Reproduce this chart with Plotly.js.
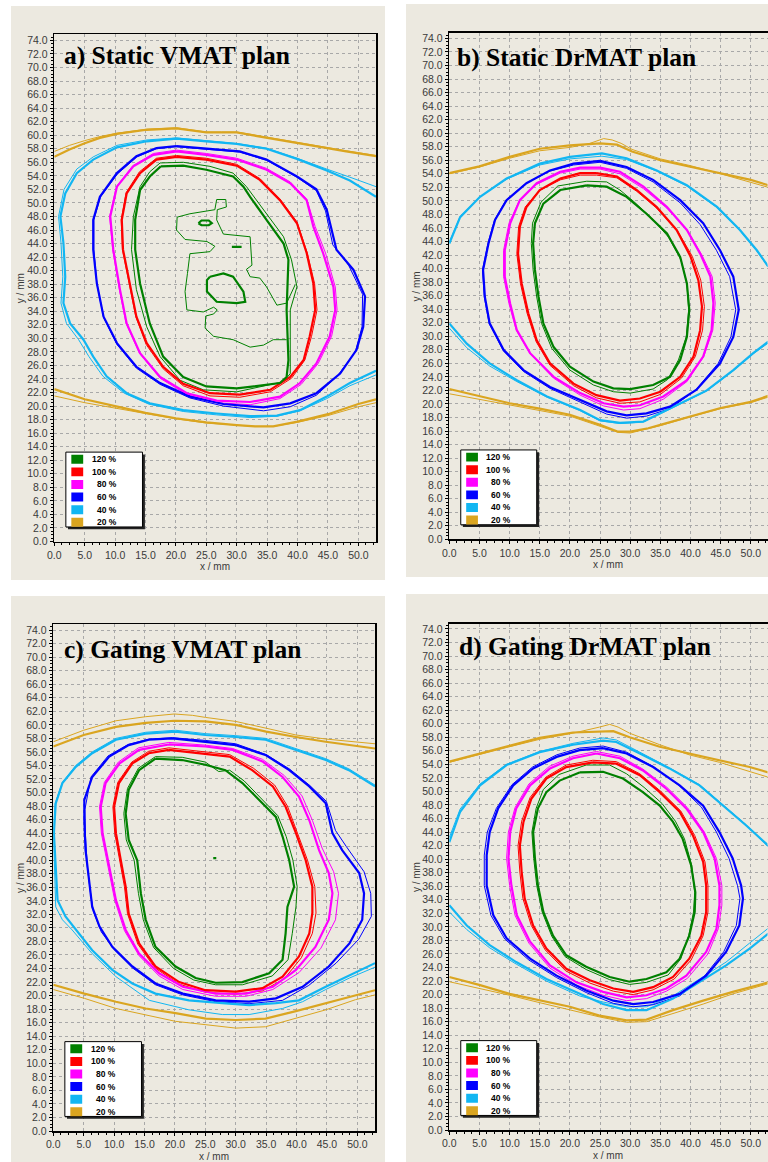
<!DOCTYPE html>
<html><head><meta charset="utf-8">
<script src="https://cdn.plot.ly/plotly-3.0.1.min.js"></script>
<style>html,body{margin:0;padding:0;background:#fff}#chart{width:768px;height:1162px}</style>
</head><body><div id="chart"></div>
<script>
// ---------- labels ----------
const PANEL_TITLES = ['a) Static VMAT plan', 'b) Static DrMAT plan', 'c) Gating VMAT plan', 'd) Gating DrMAT plan'];
const LEVEL_LABELS = ['120 %', '100 %', '80 %', '60 %', '40 %', '20 %'];
const X_TITLE = 'x / mm';
const Y_TITLE = 'y / mm';

// ---------- panel a : Static VMAT ----------
const a20_top = [[0,56.8],[2.5,57.9],[5,58.8],[7.5,59.6],[10.3,60.2],[15.2,60.8],[20.1,61.0],[23,60.7],[25,60.4],[27.5,60.4],[30,60.4],[32.5,60.0],[35,59.6],[40,58.8],[44.8,58.0],[48,57.6],[52.9,56.9]];
const a20_top_t = [[0,57.6],[2.5,58.5],[5,59.2],[7.5,59.8],[10.3,60.3],[15.2,60.9],[20.1,61.1],[23,60.8],[25,60.5],[27.5,60.5],[30,60.5],[32.5,60.1],[35,59.7],[40,58.9],[44.8,58.1],[48,57.7],[52.9,57.0]];
const a20_bot = [[0,22.5],[5,21.0],[10,20.0],[15,19.0],[20,18.2],[25,17.6],[30,17.2],[33,17.0],[36,17.0],[40,17.7],[45,18.8],[50,20.3],[52.9,21.0]];
const a20_bot_t = [[0,21.5],[5,20.5],[10,19.7],[15,18.9],[20,18.1],[25,17.5],[30,17.2],[33,17.0],[36,17.0],[40,17.6],[45,18.6],[50,19.9],[52.9,20.5]];
const a40 = [[52.9,50.9],[50,52.6],[48.6,53.3],[44.8,54.8],[39.9,56.5],[34.9,58.0],[30,58.7],[25,59.1],[20.1,59.5],[15.2,59.1],[10.3,58.2],[6.4,56.4],[3.7,54.4],[1.8,51.4],[1.0,48.0],[1.5,44.1],[1.8,39.1],[1.5,35.2],[2.6,32.2],[4.8,29.8],[6.4,27.3],[8.6,24.4],[11.9,21.9],[15.7,20.4],[21.2,19.4],[26.7,18.9],[32.2,18.5],[36.6,18.6],[40.4,19.4],[44.8,21.4],[48.6,23.4],[52.9,25.2]];
const a40_t = [[52.9,52.4],[50,53.4],[48.6,53.8],[44.8,55.0],[39.9,56.6],[34.9,58.1],[30,58.8],[25,59.2],[20.1,59.6],[15.2,59.3],[10.3,58.5],[6.4,56.8],[3.7,55.0],[1.6,52.0],[0.7,48.0],[1.1,44.1],[1.4,39.1],[1.1,35.2],[2.0,32.2],[4.0,29.8],[5.7,27.3],[8.0,24.4],[11.5,21.9],[15.5,20.3],[21.2,19.2],[26.7,18.7],[32.2,18.3],[36.6,18.5],[40.4,19.3],[44.8,21.1],[48.6,23.0],[52.9,24.6]];
const a60 = [[20.1,58.4],[25,58.0],[30.5,57.6],[34.9,56.4],[39.9,53.9],[43.1,52.0],[44.8,49.0],[46.4,43.1],[49.2,40.1],[51.1,36.2],[50.8,31.7],[49.7,28.3],[47,24.8],[43.1,21.9],[38.8,20.4],[34.4,19.8],[27.8,20.3],[22.3,21.4],[17.4,23.4],[13.5,25.8],[10.3,29.3],[8.1,33.2],[7,38.1],[6.4,43.1],[6.4,47.5],[7.5,50.9],[10.3,54.4],[13.5,56.9],[16.8,58.1],[20.1,58.4]];
const a60_t = [[20.1,58.3],[25,57.9],[30.5,57.5],[34.9,56.3],[39.9,53.8],[43.1,51.8],[44.6,48.8],[45.8,43.8],[48.4,40.8],[50.7,36.5],[50.6,31.7],[49.5,28.0],[46.6,24.5],[43.1,21.6],[38.8,19.9],[34.4,19.3],[27.8,20.0],[22.3,21.2],[17.4,23.2],[13.5,25.6],[10.3,29.1],[8.1,33.1],[7,38.1],[6.5,43.1],[6.5,47.5],[7.6,50.9],[10.4,54.3],[13.6,56.8],[16.8,58.0],[20.1,58.3]];
const a80 = [[20.1,57.6],[25,57.1],[30,56.4],[34.9,54.9],[38.8,52.9],[41.5,50.4],[42.6,46.5],[44.2,42.6],[45.9,37.6],[46.2,34.2],[45.3,30.3],[43.1,26.3],[40.4,23.4],[37.1,21.4],[32.2,20.6],[26.7,20.8],[21.8,21.9],[17.4,24.3],[14.1,27.8],[11.9,32.2],[10.8,37.2],[9.7,43.1],[9.2,48],[10.3,52.4],[13,55.4],[16.3,57.1],[20.1,57.6]];
const a80_t = [[20.1,57.8],[25,57.3],[30,56.6],[34.9,55.1],[38.8,53.1],[41.5,50.6],[42.9,46.5],[44.6,42.6],[46.2,37.6],[46.5,34.2],[45.6,30.3],[43.4,26.3],[40.6,23.2],[37.1,21.1],[32.2,20.2],[26.7,20.5],[21.8,21.7],[17.4,24.1],[14.0,27.8],[11.8,32.2],[10.7,37.2],[9.6,43.1],[9.1,48],[10.2,52.4],[12.9,55.5],[16.3,57.3],[20.1,57.8]];
const a100 = [[20.1,56.8],[25,56.4],[30,55.5],[33.8,53.4],[37.1,50.4],[39.9,47],[41.5,42.6],[42.6,38.1],[42.9,34.2],[42,30.3],[41,26.8],[38.8,24.3],[35.5,22.4],[30.5,21.7],[25.6,21.9],[21.2,23.3],[17.9,25.8],[15.2,29.3],[13.5,33.2],[12.4,38.1],[11.3,43.1],[11.1,47.5],[11.9,51.4],[14.1,54.4],[16.8,56.4],[20.1,56.8]];
const a100_t = [[20.1,57.0],[25,56.6],[30,55.7],[33.8,53.6],[37.1,50.6],[39.9,47.2],[41.6,42.6],[42.8,38.1],[43.2,34.2],[42.3,30.3],[41.2,26.8],[39.0,24.1],[35.5,22.1],[30.5,21.3],[25.6,21.5],[21.2,23.0],[17.9,25.5],[15.1,29.1],[13.4,33.2],[12.3,38.1],[11.2,43.1],[11.0,47.5],[11.8,51.5],[14.0,54.6],[16.8,56.6],[20.1,57.0]];
const a120 = [[17.5,55.4],[21.2,55.5],[25,54.9],[29.4,53.9],[31.1,52.4],[32.2,50.9],[34.9,47.5],[37.7,44.0],[38.5,41.6],[38.2,34.2],[38.5,26.8],[38.2,24.3],[37.1,23.4],[30,22.6],[25,22.9],[21.2,24.3],[17.9,27.3],[15.7,32.2],[14.1,38.1],[13.3,43.1],[13.3,47.5],[14.1,51.9],[15.7,53.9],[17.5,55.4]];
const a120_t = [[17.4,55.9],[21.2,56.0],[25.6,55.4],[29.4,54.4],[31.6,52.4],[34.4,49.0],[37.7,45.0],[39.0,41.6],[39.9,37.6],[38.8,34.2],[38.8,29.3],[38.8,24.8],[37.7,23.6],[30,22.1],[24.5,22.4],[20.7,23.8],[17.4,27.3],[15.2,31.7],[13.5,37.2],[12.7,43.1],[13,48],[14.1,52.4],[15.7,54.6],[17.4,55.9]];
const a120_inner_t = [[39.6,37.9],[38.2,35.2],[36.6,34.9],[34.9,37.6],[33.8,38.9],[32.2,39.1],[31.6,40.2],[32.5,40.8],[32.2,45.0],[27.8,45.4],[26.7,47.5],[26.8,49.0],[28.3,49.4],[28.2,50.5],[26.7,50.5],[26.4,49.0],[22.3,48.4],[20.2,47.9],[20.1,46.0],[21.5,44.6],[25.1,44.3],[26.4,43.6],[25.6,42.8],[22.3,42.5],[21.9,39.6],[21.5,36.9],[21.8,34.2],[24.5,33.9],[26.2,34.6],[26.8,34.2],[26.2,33.6],[24.9,33.3],[24.8,31.5],[26.2,30.3],[29.4,29.8],[32.2,28.7],[34.4,29.0],[36.0,29.8],[38.2,29.8]];
const a120_isl1 = [[23.7,47.0],[24.2,47.4],[25.4,47.4],[25.9,47.0],[25.4,46.7],[24.2,46.7],[23.7,47.0]];
const a120_isl2 = [[29.2,43.5],[30.8,43.5]];
const a120_isl3 = [[25.6,39.1],[27.8,39.6],[29.4,39.1],[31.1,36.9],[31.4,35.4],[30,35.2],[26.7,35.4],[25.1,36.9],[25.1,38.6],[25.6,39.1]];

// ---------- panel b : Static DrMAT ----------
const b20_top = [[0,54.1],[5,55.1],[10,56.5],[15,57.7],[20,58.2],[25,58.5],[27.8,58.3],[30.3,57.3],[35,56.0],[40,55.0],[45,54.1],[50,53.1],[52.9,52.3]];
const b20_top_t = [[0,54.0],[5,55.0],[10,56.3],[15,57.4],[20,57.9],[23,58.4],[25.6,59.2],[27,59.0],[28.5,58.5],[30.3,57.6],[35,56.2],[40,55.2],[45,54.0],[50,52.8],[52.9,52.0]];
const b20_bot = [[0,22.2],[5,21.1],[10,20.1],[15,19.3],[20,18.4],[25,16.9],[28,15.9],[30,15.9],[33,16.4],[35,16.9],[40,18.2],[45,19.4],[50,20.3],[52.9,21.2]];
const b20_bot_t = [[0,21.5],[5,20.7],[10,19.8],[15,19.0],[20,18.2],[25,16.7],[28,15.8],[30,15.7],[33,16.3],[35,16.8],[40,18.1],[45,19.3],[50,20.2],[52.9,21.0]];
const b40_top = [[0,43.7],[1.8,47.6],[5.1,50.6],[9.5,53.3],[15,55.5],[20,56.5],[25.3,57.0],[29.4,56.3],[34.4,54.5],[39.4,52.3],[44.4,49.1],[48.2,45.7],[51,42.7],[52.9,40.3]];
const b40_top_t = [[0,43.9],[1.8,47.7],[5.1,50.6],[9.5,53.2],[15,55.3],[20,56.2],[25.3,56.6],[29.4,56.1],[34.4,54.4],[39.4,52.2],[44.4,49.0],[48.2,45.6],[51,42.6],[52.9,40.2]];
const b40_bot = [[0,31.9],[2.9,28.9],[6.7,26.0],[11.2,23.5],[16.2,21.1],[21.7,19.1],[25,17.6],[28.3,17.2],[32.2,17.4],[37.2,19.6],[42.7,22.0],[47.1,25.0],[50.4,27.5],[52.9,29.2]];
const b40_bot_t = [[0,31.2],[2.9,28.3],[6.7,25.6],[11.2,23.3],[16.2,21.0],[21.7,19.0],[25,17.5],[28.3,17.1],[32.2,17.3],[37.2,19.5],[42.7,21.9],[47.1,24.9],[50.4,27.4],[52.9,29.0]];
const b60 = [[25,55.9],[29.4,55.0],[33.8,53.1],[38.3,50.1],[42.1,46.7],[44.9,42.7],[47.1,38.8],[48,33.9],[47.1,29.9],[44.9,26.0],[41,22.1],[36.6,19.6],[32.7,18.6],[29.4,18.3],[26.1,18.9],[21.7,20.6],[16.7,22.5],[12.3,25],[9,28],[6.7,31.9],[5.9,35.8],[5.6,39.8],[6.5,43.7],[7.6,47.2],[9.5,50.1],[12.8,52.6],[16.7,54.5],[20.6,55.5],[25,55.9]];
const b60_t = [[25,55.7],[29.4,54.8],[33.8,52.8],[38.3,49.7],[41.6,46.5],[44.3,42.7],[46.5,38.8],[47.5,33.9],[46.7,29.9],[44.6,26.0],[40.8,22.0],[36.6,19.3],[32.7,18.2],[29.4,17.9],[26.1,18.5],[21.7,20.3],[16.7,22.3],[12.3,24.8],[9,27.8],[6.6,31.9],[5.8,35.8],[5.5,39.8],[6.4,43.7],[7.5,47.2],[9.4,50.1],[12.7,52.6],[16.7,54.4],[20.6,55.3],[25,55.7]];
const b80 = [[25,54.9],[28.3,54.3],[32.2,52.1],[36.1,49.1],[39.4,45.7],[41.6,42.2],[43.3,38.8],[43.8,34.9],[43.5,30.9],[42.1,27.0],[39.4,23.5],[35.5,21.1],[31.6,19.8],[28.9,19.6],[25.6,20.1],[21.7,21.6],[17.3,24.0],[13.4,27.5],[11.2,30.9],[10.1,34.8],[9.2,38.8],[9.2,42.7],[10.1,46.7],[11.7,50.1],[14.5,52.6],[18.4,54.3],[21.7,54.9],[25,54.9]];
const b80_t = [[25,54.7],[28.3,54.0],[32.2,51.8],[36.1,48.9],[39.6,45.5],[41.9,42.0],[43.6,38.8],[44.1,34.9],[43.7,30.9],[42.2,27.0],[39.4,23.3],[35.5,20.7],[31.6,19.3],[28.9,19.1],[25.6,19.7],[21.7,21.3],[17.3,23.8],[13.4,27.4],[11.1,30.9],[9.9,34.8],[9.0,38.8],[9.0,42.7],[9.9,46.7],[11.6,50.0],[14.4,52.4],[18.4,54.1],[21.7,54.7],[25,54.7]];
const b100 = [[24.4,54.1],[27.8,53.6],[31.1,51.6],[34.4,49.1],[37.7,45.7],[40,41.8],[41.3,38.3],[41.9,34.4],[41.6,30.9],[40.5,27.0],[38.3,24.0],[35,21.8],[31.6,20.8],[28.3,20.5],[24.4,21.3],[20.6,23.0],[16.7,26.0],[14.5,29.4],[13.1,33.4],[12,37.8],[11.4,42.2],[11.7,46.2],[12.8,49.1],[15,51.6],[18.4,53.3],[21.7,54.1],[24.4,54.1]];
const b100_t = [[24.4,53.8],[27.8,53.4],[31.1,51.4],[34.4,48.9],[37.9,45.5],[40.3,41.8],[41.7,38.3],[42.3,34.4],[42.0,30.9],[40.8,27.0],[38.5,23.8],[35,21.4],[31.6,20.3],[28.3,20.1],[24.4,20.9],[20.6,22.7],[16.7,25.7],[14.4,29.2],[12.9,33.4],[11.8,37.8],[11.2,42.2],[11.5,46.2],[12.6,49.1],[14.9,51.5],[18.4,53.1],[21.7,53.8],[24.4,53.8]];
const b120 = [[22.8,52.3],[26.1,52.1],[29.4,50.6],[32.7,48.1],[36.1,45.2],[38.3,41.7],[39.4,37.8],[39.8,33.9],[39.4,29.9],[38.3,26.5],[36.6,24.0],[33.8,22.8],[30,22.2],[27.2,22.3],[23.9,23.3],[20,25.5],[17.3,28.4],[15.6,31.9],[14.8,35.8],[14.2,39.8],[13.9,43.7],[14.2,46.7],[15.6,49.6],[18.4,51.6],[22.8,52.3]];
const b120_t = [[22.8,52.9],[26.1,52.8],[28.3,51.6],[30.6,49.9],[33.5,47.5],[36.4,44.6],[38.4,41.3],[39.4,37.8],[39.7,33.9],[39.3,29.9],[38.0,26.5],[36.2,23.6],[33.8,22.2],[30,21.6],[27.2,21.8],[23.9,22.8],[20,25.0],[17.0,28.2],[15.3,31.9],[14.5,35.8],[13.9,39.8],[13.6,43.7],[13.8,46.7],[15.2,49.8],[18.0,52.2],[22.8,52.9]];

// ---------- panel c : Gating VMAT ----------
const c20_top = [[0,56.8],[5,58.5],[10.3,59.7],[15.2,60.3],[19.9,60.6],[25,60.5],[30,60],[35,59],[39.9,58.2],[44.8,57.5],[52.9,56.5]];
const c20_top_t = [[0,57.5],[5,59.2],[10.3,60.6],[15.2,61.2],[19.9,61.6],[22.9,61.4],[25,61.1],[30,60.5],[35,59.5],[39.9,58.5],[44.8,57.9],[52.9,57.2]];
const c20_bot = [[0,21.6],[5.1,20.3],[10.3,19.1],[15.2,18.1],[20.1,17.4],[25.1,16.6],[30,16.4],[34.9,16.6],[39.9,17.7],[44.8,18.9],[49.7,20.1],[52.9,20.8]];
const c20_bot_t = [[0,20.9],[5.1,19.6],[10.3,18.1],[15.2,17.1],[20.1,16.2],[25.1,15.7],[30,15.2],[34.9,15.4],[39.9,16.7],[44.8,17.9],[49.7,19.4],[52.9,20.1]];
const c40 = [[52.9,50.9],[48.6,53.3],[44.8,54.8],[39.9,56.3],[34.9,57.8],[30,58.2],[25,58.5],[20.1,59.0],[15.2,58.7],[10.3,57.8],[6.4,55.8],[3.7,53.8],[1.5,51.4],[0.4,48.4],[0.1,44],[0.4,39],[0.7,34.1],[2,31.7],[4.2,29.2],[6.4,26.7],[9.7,23.8],[13,21.8],[16.8,20.3],[22.3,19.3],[27.8,18.9],[32.2,18.6],[36.6,18.9],[40.4,19.3],[44.8,21.3],[48.7,23.0],[52.9,24.8]];
const c40_t = [[52.9,51.1],[48.6,53.5],[44.8,55.0],[39.9,56.5],[34.9,58.0],[30,58.4],[25,58.7],[20.1,59.2],[15.2,58.9],[10.3,58.0],[6.4,56.0],[3.7,54.0],[1.5,51.5],[0.3,48.4],[0,44],[0.2,39],[0.4,33.1],[1.5,31.2],[3.1,29.7],[6.4,26.2],[10.3,22.8],[15.8,19.3],[22.3,17.9],[27.8,17.2],[32.2,17.2],[37.7,18.1],[41,19.1],[44.8,20.9],[48.7,22.6],[52.9,24.2]];
const c60 = [[19.6,58.0],[25,57.5],[30,57.0],[35,55.5],[38.8,53.3],[42.1,50.9],[44.8,48.4],[45.9,44],[47.5,41.5],[50.3,38.1],[51.1,35.1],[50.8,31.2],[48.7,27.7],[45.3,24.3],[41,21.3],[36.6,19.6],[32.2,19.1],[26.7,19.3],[21.3,20.3],[16.8,21.8],[13,24.3],[9.7,27.2],[7.6,30.2],[6.4,33.1],[5.9,37.1],[5.3,41.5],[5.1,45.9],[5.1,48.9],[6.4,52.3],[9.2,55.3],[12.4,57.0],[15.7,57.8],[19.6,58.0]];
const c60_t = [[19.6,58.1],[25,57.7],[30,57.2],[35,55.6],[38.8,53.5],[42.1,51.1],[44.9,48.7],[46.4,44.4],[48.2,42.0],[51.1,38.3],[52.2,35.1],[52.3,31.7],[50.2,28.3],[46.5,24.8],[42,21.5],[37.7,19.3],[32.2,18.8],[26.7,19.1],[21.3,20.1],[16.8,21.6],[13,24.1],[10.1,26.7],[7.9,29.4],[6.6,32.4],[6.1,35.3],[5.6,39.0],[5.3,43.5],[5.2,47.5],[6.2,52.3],[9.0,55.4],[12.3,57.1],[15.7,57.9],[19.6,58.1]];
const c80 = [[19,57.1],[25,56.8],[29.5,56.3],[34.4,54.6],[37.7,52.3],[40.4,49.4],[42.1,45.9],[43.7,41.5],[45.3,38.1],[45.9,35.1],[45.3,31.2],[43.1,27.2],[39.9,23.8],[36.1,21.3],[31.7,20.3],[26.7,20.3],[21.3,21.3],[17.4,23.3],[14.1,26.2],[11.9,29.7],[10.3,34.1],[9.2,39],[8.1,44],[7.8,47.9],[8.6,51.4],[10.9,54.3],[14.1,56.3],[19,57.1]];
const c80_t = [[19,57.4],[25,57.0],[29.5,56.5],[34.4,54.9],[38.0,52.5],[40.9,49.5],[42.6,45.9],[44.2,41.8],[46.1,38.3],[46.9,35.1],[46.4,31.2],[44.0,27.0],[40.4,23.4],[36.1,20.9],[31.7,19.9],[26.7,19.9],[21.3,20.9],[17.4,22.9],[14.1,25.9],[11.7,29.6],[10.1,34.1],[9.0,39],[7.9,44],[7.6,47.9],[8.4,51.5],[10.7,54.5],[14.0,56.6],[19,57.4]];
const c100 = [[19,56.3],[24.5,55.8],[29,55.3],[32.7,53.3],[36.1,50.9],[38.2,47.9],[39.9,44],[41.5,40],[42.6,36.1],[42.6,32.2],[42.1,29.2],[40.4,25.8],[37.7,22.8],[34.4,21.1],[30,20.6],[25,20.8],[20.7,22.0],[16.8,24.3],[14.1,27.7],[12.4,32.1],[11.9,36.1],[11.1,40],[10.3,44],[10,47.9],[10.8,51.4],[13,54.3],[15.7,55.8],[19,56.3]];
const c100_t = [[19,56.6],[24.5,56.1],[29,55.6],[32.9,53.6],[36.4,51.1],[38.5,48.0],[40.2,44],[41.8,40],[43.0,36.1],[43.2,32.2],[42.6,29.2],[40.8,25.6],[38.0,22.5],[34.4,20.7],[30,20.2],[25,20.5],[20.7,21.7],[16.7,24.1],[13.9,27.6],[12.2,32.1],[11.7,36.1],[10.9,40],[10.1,44],[9.8,47.9],[10.6,51.5],[12.9,54.5],[15.7,56.1],[19,56.6]];
const c120 = [[16.8,55.0],[21.2,54.8],[25,54.1],[28.3,53.3],[31.1,51.4],[33.8,48.9],[36.6,46.4],[37.7,43.5],[38.8,40],[39.6,36.1],[38.5,33.1],[38.2,29.2],[37.7,25.3],[35.5,23.3],[31.1,22.0],[26.7,21.9],[23.4,22.6],[20.1,24.3],[16.8,27.2],[15.2,31.2],[14.4,35.1],[13.8,40],[12.4,43],[11.9,46.9],[12.4,50.4],[14.1,53.3],[16.8,55.0]];
const c120_t = [[16.8,55.3],[21.2,55.2],[25,54.5],[27.2,53.1],[29.0,53.3],[31.4,51.7],[34.1,49.2],[36.9,46.6],[38.3,43.5],[39.4,40],[40.1,36.1],[39.9,33.1],[39.3,29.2],[38.6,25.3],[36.0,22.9],[31.1,21.6],[26.7,21.6],[23.1,22.3],[19.8,24.0],[16.5,27.1],[14.8,31.2],[14.0,35.1],[13.3,40],[12.0,43],[11.6,46.9],[12.2,50.6],[14.0,53.6],[16.8,55.3]];
const c120_isl = [[26.3,40.3],[26.8,40.3]];

// ---------- panel d : Gating DrMAT ----------
const d20_top = [[0,54.4],[5.1,55.6],[10,56.8],[15,57.9],[20.5,58.7],[24.9,58.9],[27.2,58.9],[29.9,58.0],[34.9,56.6],[39.8,55.6],[44.8,54.6],[49.8,53.6],[52.9,52.8]];
const d20_top_t = [[0,54.3],[5.1,55.5],[10,56.6],[15,57.7],[20.5,58.6],[24.9,59.5],[26.6,59.9],[28,59.5],[29.9,58.6],[34.9,56.9],[39.8,55.4],[44.8,54.3],[49.8,53.0],[52.9,52.1]];
const d20_bot = [[0,22.6],[5.1,21.4],[10,20.1],[15,19.1],[20,18.2],[24.9,16.9],[29.4,16.2],[32.7,16.3],[37.1,17.7],[42.1,19.1],[47,20.4],[52.9,21.8]];
const d20_bot_t = [[0,21.9],[5.1,20.9],[10,19.9],[15,18.8],[20,17.7],[24.9,16.7],[29.4,15.9],[32.7,16.0],[37.1,17.2],[42.1,18.6],[47,20.1],[52.9,21.6]];
const d40_top = [[0,42.5],[1.8,47.0],[5.1,50.9],[9.5,53.9],[15,55.8],[20.5,56.9],[25.5,57.5],[27.7,57.3],[31.6,55.6],[36.5,53.4],[41.5,50.9],[45.4,47.9],[49.2,45],[52.9,42.0]];
const d40_top_t = [[0,43.2],[1.8,47.4],[5.1,51.1],[9.5,54.0],[15,55.9],[20.5,57.1],[25.5,57.9],[27.7,57.6],[31.6,55.8],[36.5,53.5],[41.5,51.0],[45.4,48.0],[49.2,45.1],[52.9,41.8]];
const d40_bot = [[0,33.2],[2.9,30.2],[6.7,27.3],[11.1,24.8],[16.1,22.3],[21.6,20.1],[25.5,18.6],[29.4,17.7],[32.7,17.7],[37.1,19.4],[41.5,21.9],[45.9,24.3],[49.8,26.8],[52.9,29.0]];
const d40_bot_t = [[0,32.2],[2.9,29.6],[6.7,26.9],[11.1,24.5],[16.1,22.0],[21.6,19.8],[25.5,18.9],[29.4,18.2],[32.7,18.2],[37.1,19.8],[41.5,22.3],[45.9,24.8],[49.8,27.6],[52.9,29.8]];
const d60 = [[25.5,56.4],[29.4,55.6],[33.8,53.6],[38.2,50.9],[42.1,47.9],[44.8,44],[47,40.1],[48.4,36.1],[48.7,34.2],[48.1,30.2],[45.9,26.3],[42.6,22.8],[38.2,20.1],[33.8,18.9],[30.5,18.6],[27.2,19.1],[22.7,20.6],[17.8,22.8],[13.4,25.3],[9.5,28.3],[7.3,31.7],[6.2,36.1],[6.2,40.6],[6.7,44],[8.1,47.5],[10.6,50.9],[13.9,53.4],[17.8,55.1],[21.6,56.1],[25.5,56.4]];
const d60_t = [[25.5,56.7],[29.4,55.8],[33.8,53.7],[38.2,50.8],[41.8,47.7],[44.3,44],[46.4,40.1],[47.8,36.1],[48.2,34.2],[47.6,30.2],[45.5,26.3],[42.2,22.6],[38.2,19.8],[33.8,18.5],[30.5,18.2],[27.2,18.7],[22.7,20.3],[17.8,22.5],[13.2,25.1],[9.2,28.2],[6.9,31.7],[5.8,36.1],[5.8,40.6],[6.3,44],[7.8,47.5],[10.4,51.0],[13.8,53.6],[17.8,55.4],[21.6,56.4],[25.5,56.7]];
const d80 = [[24.4,55.6],[28.3,54.9],[32.1,53.1],[36,50.4],[39.3,47.5],[42.1,44],[44,40.1],[44.8,36.1],[44.8,33.2],[44.3,29.7],[42.6,26.3],[39.3,22.8],[36,20.9],[32.7,19.9],[29.4,19.6],[25.5,20.4],[21.1,21.8],[16.7,24.3],[13.4,27.8],[11.2,31.7],[10.3,36.1],[9.8,40.1],[10.1,44],[11.1,47.5],[13.4,50.9],[16.7,53.4],[20.5,54.9],[24.4,55.6]];
const d80_t = [[24.4,55.9],[28.3,55.2],[32.1,53.3],[36.1,50.6],[39.5,47.6],[42.3,44],[44.3,40.1],[45.2,36.1],[45.2,33.2],[44.6,29.7],[42.9,26.0],[39.5,22.4],[36,20.5],[32.7,19.4],[29.4,19.1],[25.5,19.9],[21.1,21.4],[16.7,23.9],[13.2,27.6],[10.9,31.7],[10.0,36.1],[9.5,40.1],[9.8,44],[10.9,47.6],[13.2,51.1],[16.6,53.7],[20.5,55.2],[24.4,55.9]];
const d100 = [[23.8,54.3],[27.7,54.1],[31.6,52.4],[34.9,49.9],[38.2,47],[40.4,43.5],[42.1,39.6],[42.6,36.1],[42.6,32.2],[41.8,28.7],[39.8,25.3],[37.1,22.6],[33.8,21.1],[30.5,20.4],[27.2,20.9],[23.3,22.1],[19.4,23.8],[16.1,26.8],[13.9,30.2],[12.5,34.2],[12,38.1],[11.7,42.0],[12.3,45.5],[13.6,48.9],[16.1,51.9],[19.4,53.6],[23.8,54.3]];
const d100_t = [[23.8,54.6],[27.7,54.4],[31.6,52.6],[35.1,50.0],[38.4,47.1],[40.7,43.5],[42.4,39.6],[42.9,36.1],[42.9,32.2],[42.1,28.7],[40.1,25.1],[37.3,22.3],[33.8,20.7],[30.5,20.0],[27.2,20.5],[23.3,21.7],[19.3,23.5],[15.9,26.6],[13.6,30.2],[12.2,34.2],[11.7,38.1],[11.4,42.0],[12.0,45.6],[13.4,49.1],[16.0,52.1],[19.4,53.9],[23.8,54.6]];
const d120 = [[21.6,52.8],[25.5,52.9],[28.8,51.9],[32.1,49.9],[34.9,47.9],[37.1,45.5],[38.7,43],[40.1,39.1],[40.8,35.1],[40.7,32.2],[39.8,28.7],[38.2,25.3],[36,23.3],[32.7,22.3],[29.9,21.9],[26.6,22.6],[22.7,24.1],[19.4,25.8],[17.2,28.7],[15.6,32.2],[14.7,36.1],[14.2,40.1],[13.9,44],[14.7,47.5],[16.1,49.9],[18.3,51.6],[21.6,52.8]];
const d120_t = [[22.7,53.9],[26.6,53.9],[29.4,52.6],[32.3,50.6],[35.3,48.2],[37.5,45.6],[39.0,43],[40.2,39.1],[40.7,35.1],[40.5,32.2],[39.7,28.7],[38.4,25.3],[36.3,22.9],[32.7,21.8],[29.9,21.5],[26.6,22.2],[22.7,23.7],[19.2,25.6],[17.0,28.6],[15.4,32.2],[14.5,36.1],[14.0,40.1],[13.7,44],[14.4,47.5],[15.6,50.3],[18.2,52.5],[22.7,53.9]];

// ---------- styles ----------
const LEVEL_COLORS = ['#008000', '#ff0000', '#ff00ff', '#0000ff', '#12b6f2', '#daa520'];
const THICK = 2.2, THIN = 1;

// ---------- build ----------
const traces = [];
function line(pts, ax, lvl, w) {
  traces.push({type:'scatter', mode:'lines', x: pts.map(p => p[0]), y: pts.map(p => p[1]),
    xaxis: 'x' + ax, yaxis: 'y' + ax, line: {color: LEVEL_COLORS[lvl], width: w},
    hoverinfo: 'skip', showlegend: false});
}
// panel a
[[a20_top_t,5],[a20_bot_t,5],[a40_t,4],[a60_t,3],[a80_t,2],[a100_t,1],[a120_t,0],[a120_inner_t,0]].forEach(p => line(p[0], '', p[1], THIN));
[[a20_top,5],[a20_bot,5],[a40,4],[a60,3],[a80,2],[a100,1],[a120,0],[a120_isl1,0],[a120_isl2,0],[a120_isl3,0]].forEach(p => line(p[0], '', p[1], THICK));
// panel b
[[b20_top_t,5],[b20_bot_t,5],[b40_top_t,4],[b40_bot_t,4],[b60_t,3],[b80_t,2],[b100_t,1],[b120_t,0]].forEach(p => line(p[0], '2', p[1], THIN));
[[b20_top,5],[b20_bot,5],[b40_top,4],[b40_bot,4],[b60,3],[b80,2],[b100,1],[b120,0]].forEach(p => line(p[0], '2', p[1], THICK));
// panel c
[[c20_top_t,5],[c20_bot_t,5],[c40_t,4],[c60_t,3],[c80_t,2],[c100_t,1],[c120_t,0]].forEach(p => line(p[0], '3', p[1], THIN));
[[c20_top,5],[c20_bot,5],[c40,4],[c60,3],[c80,2],[c100,1],[c120,0],[c120_isl,0]].forEach(p => line(p[0], '3', p[1], THICK));
// panel d
[[d20_top_t,5],[d20_bot_t,5],[d40_top_t,4],[d40_bot_t,4],[d60_t,3],[d80_t,2],[d100_t,1],[d120_t,0]].forEach(p => line(p[0], '4', p[1], THIN));
[[d20_top,5],[d20_bot,5],[d40_top,4],[d40_bot,4],[d60,3],[d80,2],[d100,1],[d120,0]].forEach(p => line(p[0], '4', p[1], THICK));

// ---------- layout geometry (pixels) ----------
const W = 768, H = 1162;
const fx = px => px / W, fy = py => 1 - py / H;
const PLOTS = [ // left, right, top, bottom (px), xmax, ymax
  {l:54.3, r:376, t:34.3, b:541.5, xmax:52.9, ymax:74.9},
  {l:449.3, r:767.5, t:33, b:539.3, xmax:52.77, ymax:74.8},
  {l:53.3, r:375, t:624.3, b:1131, xmax:52.9, ymax:74.85},
  {l:449.3, r:767.5, t:623.5, b:1130, xmax:52.77, ymax:74.8}
];
const FRAMES = [[11,385,6,580],[406,768,4,577],[11,385,596,1162],[406,768,594,1162]];
const TITLE_POS = [[62,55],[455,57.5],[62,649],[457,646.5]];

const tickFont = {family:'Liberation Sans, Arial, sans-serif', size:10.5, color:'#3a3a3a'};
const titleFont = {family:'Liberation Sans, Arial, sans-serif', size:10, color:'#3a3a3a'};
const layout = {width:W, height:H, margin:{l:0,r:0,t:0,b:0}, paper_bgcolor:'#ffffff', plot_bgcolor:'#EEEBE3',
  showlegend:false, shapes:[], annotations:[]};

PLOTS.forEach((p, i) => {
  const s = i === 0 ? '' : String(i + 1);
  layout['xaxis' + s] = {domain:[fx(p.l), fx(p.r)], range:[0, p.xmax], anchor:'y' + s, dtick:5, tick0:0,
    tickformat:'.1f', showgrid:true, gridcolor:'#a8a8a8', griddash:'dot', gridwidth:1, zeroline:false,
    showline:true, linecolor:'#000', linewidth:1.6, mirror:true, ticks:'outside', ticklen:3, tickcolor:'#000',
    tickfont:tickFont, fixedrange:true,
    minor:{dtick:1.25, tick0:0, ticks:'outside', ticklen:2, tickcolor:'#000', showgrid:false}};
  layout['yaxis' + s] = {domain:[fy(p.b), fy(p.t)], range:[0, p.ymax], anchor:'x' + s, dtick:2, tick0:0,
    tickformat:'.1f', showgrid:true, gridcolor:'#a8a8a8', griddash:'dot', gridwidth:1, zeroline:false,
    showline:true, linecolor:'#000', linewidth:1.6, mirror:true, ticks:'outside', ticklen:3, tickcolor:'#000',
    tickfont:tickFont, fixedrange:true,
    minor:{dtick:0.5, tick0:0, ticks:'outside', ticklen:2, tickcolor:'#000', showgrid:false}};

  // beige frame
  const f = FRAMES[i];
  layout.shapes.push({type:'rect', xref:'paper', yref:'paper', x0:fx(f[0]), x1:fx(f[1]), y0:fy(f[3]), y1:fy(f[2]),
    fillcolor:'#ECE9E0', line:{width:0}, layer:'below'});

  // panel title
  layout.annotations.push({xref:'paper', yref:'paper', x:fx(TITLE_POS[i][0]), y:fy(TITLE_POS[i][1]),
    xanchor:'left', yanchor:'middle', showarrow:false, text:'<b>' + PANEL_TITLES[i] + '</b>',
    font:{family:'Liberation Serif, Times New Roman, serif', size:25.5, color:'#000'}});
  // axis titles
  layout.annotations.push({xref:'paper', yref:'paper', x:fx((p.l + Math.min(p.r, 768)) / 2), y:fy(p.b + 25),
    xanchor:'center', yanchor:'middle', showarrow:false, text:X_TITLE, font:titleFont});
  layout.annotations.push({xref:'paper', yref:'paper', x:fx(p.l - 33), y:fy((p.t + p.b) / 2),
    xanchor:'center', yanchor:'middle', showarrow:false, text:Y_TITLE, textangle:-90, font:titleFont});

  // legend box (data coords of this subplot)
  const xr = 'x' + s, yr = 'y' + s;
  layout.shapes.push({type:'rect', xref:xr, yref:yr, x0:2.25, x1:14.9, y0:1.8, y1:12.85,
    fillcolor:'#222', line:{width:0}, layer:'above'});
  layout.shapes.push({type:'rect', xref:xr, yref:yr, x0:1.9, x1:14.5, y0:2.15, y1:13.2,
    fillcolor:'#ffffff', line:{color:'#000', width:1}, layer:'above'});
  LEVEL_LABELS.forEach((lab, k) => {
    const yc = 12.14 - 1.86 * k;
    layout.shapes.push({type:'rect', xref:xr, yref:yr, x0:2.8, x1:4.75, y0:yc - 0.66, y1:yc + 0.66,
      fillcolor:LEVEL_COLORS[k], line:{width:0}, layer:'above'});
    layout.annotations.push({xref:xr, yref:yr, x:10.6, y:yc, xanchor:'right', yanchor:'middle', showarrow:false,
      text:'<b>' + lab + '</b>', font:{family:'Liberation Sans, Arial, sans-serif', size:8.5, color:'#000'}});
  });
});

Plotly.newPlot('chart', traces, layout, {staticPlot:true, displayModeBar:false});
</script></body></html>
